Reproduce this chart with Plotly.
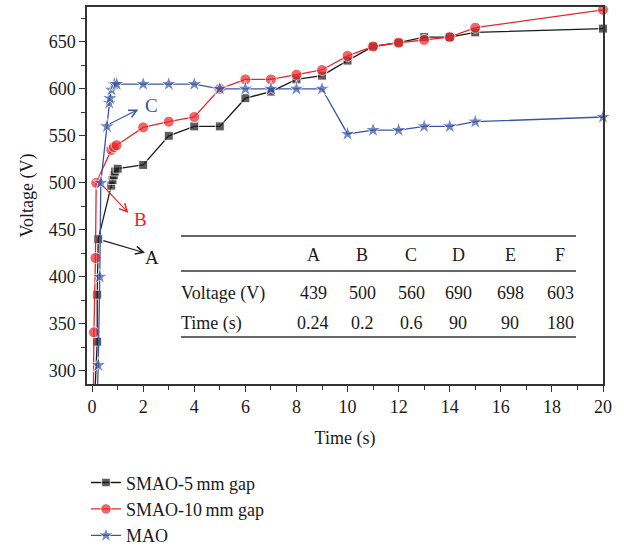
import plotly.graph_objects as go

# ---- data ----
smao5_t = [0.1, 0.2, 0.2, 0.24, 0.75, 0.8, 0.85, 0.9, 1.0, 2, 3, 4, 5, 6, 7, 8, 9, 10, 11, 12, 13, 14, 15, 20]
smao5_v = [270, 331, 381, 440, 497, 503, 508, 512, 515, 519, 550, 560, 560, 590, 597, 610, 614, 630, 645, 649, 655, 655, 660, 664]

smao10_t = [0.05, 0.07, 0.13, 0.16, 0.75, 0.85, 0.96, 2, 3, 4, 5, 6, 7, 8, 9, 10, 11, 12, 13, 14, 15, 20]
smao10_v = [270, 341, 420, 500, 535, 538, 540, 559, 565, 570, 600, 610, 610, 615, 620, 635, 645, 649, 652, 655, 665, 684]

mao_t = [0.2, 0.24, 0.3, 0.34, 0.58, 0.67, 0.7, 0.76, 0.87, 0.96, 2, 3, 4, 5, 6, 7, 8, 9, 10, 11, 12, 13, 14, 15, 20]
mao_v = [270, 306, 400, 500, 560, 585, 590, 599, 605, 605, 605, 605, 605, 600, 600, 600, 600, 600, 552, 556, 556, 560, 560, 565, 570]

table_cols = ["A", "B", "C", "D", "E", "F"]
table_voltage = ["439", "500", "560", "690", "698", "603"]
table_time = ["0.24", "0.2", "0.6", "90", "90", "180"]

FONT = "Liberation Serif"
BLACK = "#1a1a1a"
RED = "#e8262a"
BLUE = "#3a55a5"


def sizes(vals, s):
    return [0 if v < 286 else s for v in vals]


fig = go.Figure()
fig.add_trace(go.Scatter(x=smao5_t, y=smao5_v, mode="lines+markers", name="SMAO-5\u2009mm gap",
                         line=dict(color=BLACK, width=1.3),
                         marker=dict(symbol="square", size=sizes(smao5_v, 9), color=BLACK),
                         cliponaxis=False))
fig.add_trace(go.Scatter(x=smao10_t, y=smao10_v, mode="lines+markers", name="SMAO-10\u2009mm gap",
                         line=dict(color=RED, width=1.3),
                         marker=dict(symbol="circle", size=sizes(smao10_v, 11), color=RED),
                         cliponaxis=False))
fig.add_trace(go.Scatter(x=mao_t, y=mao_v, mode="lines+markers", name="MAO",
                         line=dict(color=BLUE, width=1.3),
                         marker=dict(symbol="star", size=sizes(mao_v, 12), color=BLUE),
                         cliponaxis=False))

# arrows A, B, C
arrows = [
    dict(tail=(0.38, 439), head=(2.07, 425.5), txt=(2.35, 421), label="A", color=BLACK),
    dict(tail=(0.38, 498), head=(1.42, 468), txt=(1.88, 461), label="B", color=RED),
    dict(tail=(0.64, 562), head=(1.81, 578), txt=(2.34, 582), label="C", color=BLUE),
]
for a in arrows:
    fig.add_annotation(x=a["head"][0], y=a["head"][1], ax=a["tail"][0], ay=a["tail"][1],
                       xref="x", yref="y", axref="x", ayref="y", text="", showarrow=True,
                       arrowhead=5, arrowsize=1.4, arrowwidth=1.1, arrowcolor=a["color"])
    fig.add_annotation(x=a["txt"][0], y=a["txt"][1], xref="x", yref="y", text=a["label"],
                       showarrow=False, xanchor="center", yanchor="middle",
                       font=dict(family=FONT, size=19, color=a["color"]))

# inset table
def px2x(px):
    return (px - 87) / 516.0


def py2y(py):
    return (384 - py) / 377.0


col_px = [313, 362, 411, 458, 510, 560]
for py in (236, 271, 337):
    fig.add_shape(type="line", xref="paper", yref="paper", x0=px2x(181), x1=px2x(576),
                  y0=py2y(py), y1=py2y(py), line=dict(color="#333333", width=1.3))
TF = dict(family=FONT, size=18, color=BLACK)
for i, c in enumerate(table_cols):
    for row_py, txt in ((255, c), (293, table_voltage[i]), (323, table_time[i])):
        fig.add_annotation(x=px2x(col_px[i]), y=py2y(row_py), xref="paper", yref="paper", text=txt,
                           xanchor="center", yanchor="middle", showarrow=False, font=TF)
fig.add_annotation(x=px2x(179), y=py2y(293), xref="paper", yref="paper", text="Voltage (V)",
                   xanchor="left", yanchor="middle", showarrow=False, font=TF)
fig.add_annotation(x=px2x(179), y=py2y(323), xref="paper", yref="paper", text="Time (s)",
                   xanchor="left", yanchor="middle", showarrow=False, font=TF)

axis_common = dict(showline=True, linecolor="#333333", linewidth=1.5, mirror=True,
                   ticks="outside", ticklen=6, tickwidth=1.3, tickcolor="#333333",
                   showgrid=False, zeroline=False,
                   tickfont=dict(family=FONT, size=18, color=BLACK))
fig.update_xaxes(range=[-0.2, 20], dtick=2, tick0=0,
                 minor=dict(dtick=1, ticks="outside", ticklen=4, tickcolor="#333333"),
                 title=dict(text="Time (s)", font=dict(family=FONT, size=18, color=BLACK), standoff=15),
                 **axis_common)
fig.update_yaxes(range=[286, 687], dtick=50, tick0=300,
                 minor=dict(dtick=25, ticks="outside", ticklen=4, tickcolor="#333333"),
                 title=dict(text="Voltage (V)", font=dict(family=FONT, size=18, color=BLACK), standoff=10),
                 **axis_common)

fig.update_layout(width=624, height=549, margin=dict(l=87, r=21, t=7, b=165, autoexpand=False),
                  plot_bgcolor="white", paper_bgcolor="white",
                  showlegend=True,
                  legend=dict(x=-0.002, y=-0.213, xanchor="left", yanchor="top",
                              font=dict(family=FONT, size=18, color=BLACK),
                              bgcolor="rgba(0,0,0,0)"))

fig.write_html("out.html", config={"displayModeBar": False},
               post_script="document.body.style.margin='0';document.body.style.padding='0';")
